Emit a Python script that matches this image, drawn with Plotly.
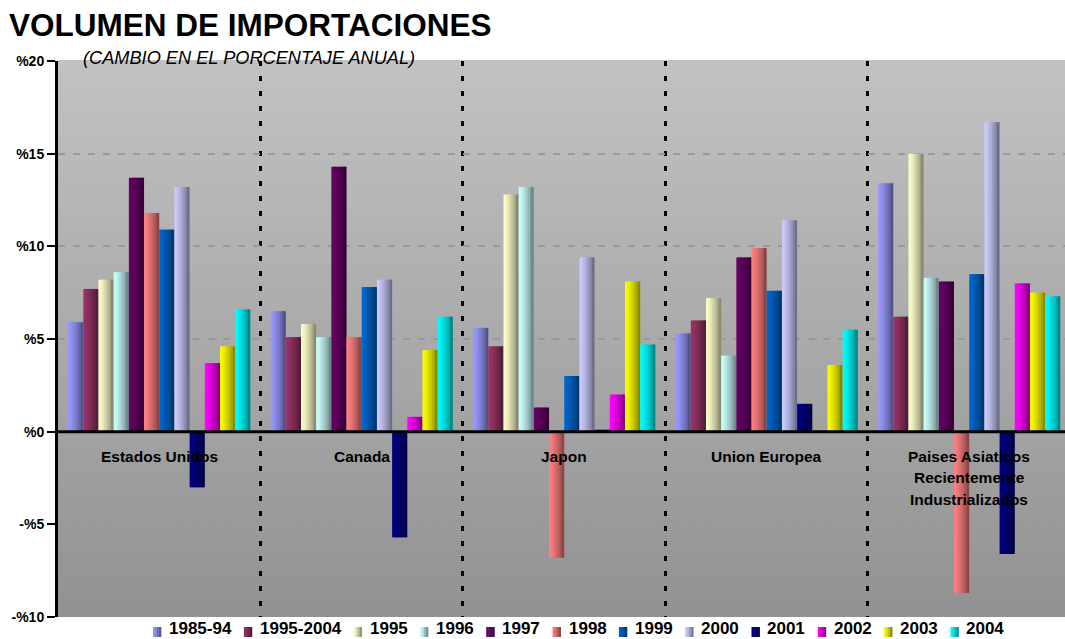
import plotly.graph_objects as go

# Regions (x categories) and periods (series)
categories = ["Estados Unidos", "Canada", "Japon", "Union Europea",
              "Paises Asiaticos<br>Recientemente<br>Industrializados"]
series_names = ["1985-94", "1995-2004", "1995", "1996", "1997", "1998",
                "1999", "2000", "2001", "2002", "2003", "2004"]

# Annual change in import volume (%), one value per region
v_1985_94 = [5.9, 6.5, 5.6, 5.3, 13.4]
v_1995_2004 = [7.7, 5.1, 4.6, 6.0, 6.2]
v_1995 = [8.2, 5.8, 12.8, 7.2, 15.0]
v_1996 = [8.6, 5.1, 13.2, 4.1, 8.3]
v_1997 = [13.7, 14.3, 1.3, 9.4, 8.1]
v_1998 = [11.8, 5.1, -6.8, 9.9, -8.7]
v_1999 = [10.9, 7.8, 3.0, 7.6, 8.5]
v_2000 = [13.2, 8.2, 9.4, 11.4, 16.7]
v_2001 = [-3.0, -5.7, 0.1, 1.5, -6.6]
v_2002 = [3.7, 0.8, 2.0, None, 8.0]
v_2003 = [4.6, 4.4, 8.1, 3.6, 7.5]
v_2004 = [6.6, 6.2, 4.7, 5.5, 7.3]

tick_vals = [-10, -5, 0, 5, 10, 15, 20]
tick_text = ["-%10", "-%5", "%0", "%5", "%10", "%15", "%20"]

series_values = [v_1985_94, v_1995_2004, v_1995, v_1996, v_1997, v_1998,
                 v_1999, v_2000, v_2001, v_2002, v_2003, v_2004]
series_colors = ["#9999FF", "#993366", "#FFFFCC", "#CCFFFF", "#660066", "#FF8080",
                 "#0066CC", "#CCCCFF", "#000080", "#FF00FF", "#FFFF00", "#00FFFF"]

FONT = "Arial, Liberation Sans, sans-serif"
W, H = 1065, 639
ML, MR, MT, MB = 58, 0, 61, 22
PW, PH = W - ML - MR, H - MT - MB


def px_x(px):
    return (px - ML) / PW


def px_y(py):
    return (H - MB - py) / PH


def shade(hex_color, f):
    r, g, b = (int(hex_color[i:i + 2], 16) for i in (1, 3, 5))
    return "rgb(%d,%d,%d)" % (round(r * f), round(g * f), round(b * f))


def strip_factor(t):
    # light on the left edge, darker toward the right edge
    return 1.0 - 0.5 * t ** 1.4


fig = go.Figure()

# Each bar is built from narrow vertical strips to give a horizontal gradient
n_series = len(series_names)
group_span = 0.9
bar_w = group_span / n_series
n_strips = 8
strip_w = bar_w / n_strips
for i, (name, vals, col) in enumerate(zip(series_names, series_values, series_colors)):
    for k in range(n_strips):
        t = (k + 0.5) / n_strips
        w = strip_w * 1.6 if k < n_strips - 1 else strip_w
        fig.add_trace(go.Bar(
            x=categories, y=vals, name=name, legendgroup=name,
            showlegend=False,
            offset=-group_span / 2 + i * bar_w + k * strip_w,
            width=w,
            marker=dict(color=shade(col, strip_factor(t)), line=dict(width=0)),
            hoverinfo="skip" if k else None,
        ))

shapes = []
# Plot-area background: vertical gray gradient
n_bands = 60
top_c, bot_c = 194, 146
for b in range(n_bands):
    c = round(top_c + (bot_c - top_c) * (b + 0.5) / n_bands)
    shapes.append(dict(type="rect", xref="paper", yref="paper",
                       x0=0, x1=1, y0=1 - (b + 1) / n_bands, y1=1 - b / n_bands + 0.002,
                       fillcolor="rgb(%d,%d,%d)" % (c, c, c), line=dict(width=0),
                       layer="below"))
# Zero line on top of the bars
shapes.append(dict(type="line", xref="paper", yref="y", x0=0, x1=1, y0=0, y1=0,
                   line=dict(color="black", width=3), layer="above"))

annotations = [
    dict(text="<b>VOLUMEN DE IMPORTACIONES</b>", xref="paper", yref="paper",
         x=px_x(7), y=px_y(25), xanchor="left", yanchor="middle", showarrow=False,
         font=dict(family=FONT, size=31.5, color="black")),
    dict(text="<i>(CAMBIO EN EL PORCENTAJE ANUAL)</i>", xref="paper", yref="paper",
         x=px_x(81), y=px_y(58.5), xanchor="left", yanchor="middle", showarrow=False,
         font=dict(family=FONT, size=18.2, color="black")),
]

# Region names inside the plot, below the zero line
for ci, cat in enumerate(categories):
    for li, line in enumerate(cat.split("<br>")):
        annotations.append(dict(
            text="<b>%s</b>" % line, xref="x", yref="paper", x=ci,
            y=px_y(456 + li * 21.5), xanchor="center", yanchor="middle",
            showarrow=False, font=dict(family=FONT, size=15.5, color="black")))

# Legend row along the bottom
char_w = {"-": 0.333}
leg_fs = 17
leg_gap = 13.5
lx = 153
for name, col in zip(series_names, series_colors):
    for k in range(4):
        t = (k + 0.5) / 4
        shapes.append(dict(type="rect", xref="paper", yref="paper",
                           x0=px_x(lx + k * 2), x1=px_x(lx + k * 2 + 2.4),
                           y0=px_y(637), y1=px_y(627),
                           fillcolor=shade(col, strip_factor(t)), line=dict(width=0),
                           layer="above"))
    annotations.append(dict(
        text="<b>%s</b>" % name, xref="paper", yref="paper", x=px_x(lx + 15),
        y=px_y(639), xanchor="left", yanchor="bottom", borderpad=0, showarrow=False,
        font=dict(family=FONT, size=leg_fs, color="black")))
    tw = sum(char_w.get(ch, 0.556) for ch in name) * leg_fs
    lx += 15 + tw + leg_gap

fig.update_layout(
    width=W, height=H,
    margin=dict(l=ML, r=MR, t=MT, b=MB, pad=0),
    paper_bgcolor="white", plot_bgcolor="rgb(170,170,170)",
    barmode="overlay", showlegend=False,
    font=dict(family=FONT, color="black"),
    shapes=shapes, annotations=annotations,
    xaxis=dict(type="category", range=[-0.5, 4.473], showticklabels=False,
               ticks="", tickson="boundaries", showgrid=True, gridcolor="black",
               gridwidth=3, griddash="5px,10px", zeroline=False, showline=False,
               fixedrange=True),
    yaxis=dict(range=[-10, 20], tickvals=tick_vals, ticktext=tick_text,
               ticks="outside", ticklen=8, tickwidth=2, tickcolor="black",
               tickfont=dict(family=FONT, size=14, color="black", weight="bold"),
               showline=True, linecolor="black", linewidth=3,
               showgrid=True, gridcolor="#999999", gridwidth=2, griddash="7px,8px",
               zeroline=False, automargin=False, fixedrange=True),
)

fig.write_html("out.html")
